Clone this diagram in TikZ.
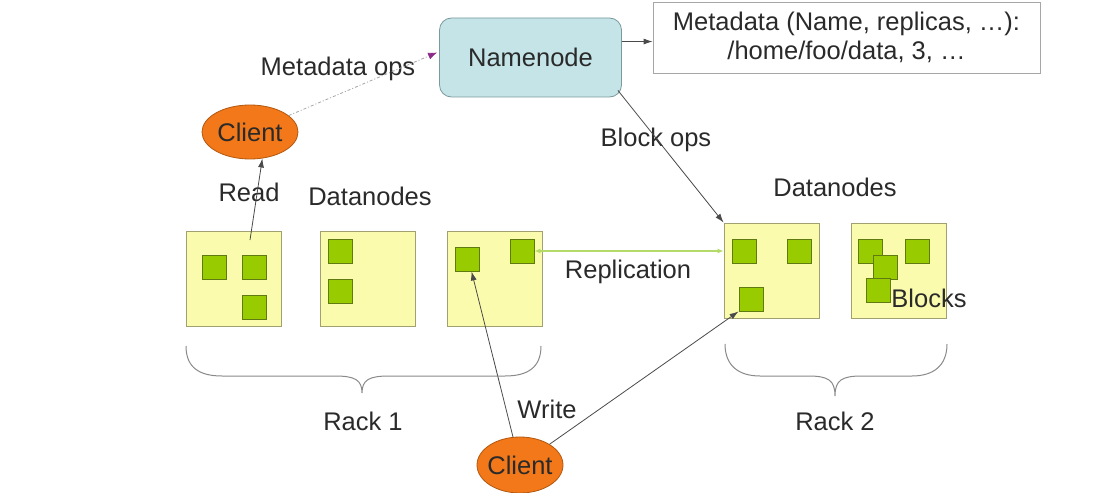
\documentclass[tikz,border=0pt]{standalone}
\usepackage{fontspec}
\setmainfont{Liberation Sans}
\usetikzlibrary{arrows.meta,calc,shapes.geometric}
\definecolor{txt}{HTML}{2A2A2A}
\definecolor{nnfill}{HTML}{C4E4E8}
\definecolor{nnline}{HTML}{7C9A9E}
\definecolor{clfill}{HTML}{F2781A}
\definecolor{clline}{HTML}{B2580E}
\definecolor{rkfill}{HTML}{FBFBAE}
\definecolor{rkline}{HTML}{A0A070}
\definecolor{blfill}{HTML}{99CC00}
\definecolor{blline}{HTML}{5E7A10}
\definecolor{repl}{HTML}{B4DA6A}
\definecolor{edge}{HTML}{4A4A4A}
\definecolor{mdarrow}{HTML}{8A2A8A}
\definecolor{brcol}{HTML}{8A8A8A}
\tikzset{
  lbl/.style={text=txt, font=\fontsize{25.5}{29}\selectfont, inner sep=0},
  namebox/.style={draw=nnline, fill=nnfill, rounded corners=12pt, minimum width=182pt, minimum height=79pt, inner sep=0, line width=0.8pt},
  metabox/.style={draw=gray!70, fill=white, minimum width=387pt, minimum height=71pt, inner sep=0, align=center, line width=0.8pt},
  client/.style={ellipse, draw=clline, fill=clfill, minimum width=96pt, minimum height=54pt, inner sep=0, line width=0.8pt},
  rack/.style={draw=rkline, fill=rkfill, minimum width=95pt, minimum height=95pt, inner sep=0, line width=0.8pt},
  blk/.style={draw=blline, fill=blfill, minimum size=24pt, inner sep=0, line width=0.9pt},
  conn/.style={draw=edge, line width=0.8pt, -{Latex[length=9pt,width=6pt]}},
  brc/.style={draw=brcol, line width=1pt},
}
\begin{document}
\begin{tikzpicture}[x=1pt,y=-1pt]
\useasboundingbox (0,0) rectangle (1107,492);
\fill[white] (0,0) rectangle (1107,492);
% top nodes
\node[namebox] (nn) at (530.5,57.5) {};
\node[lbl] at (nn.center) {Namenode};
\node[metabox] (meta) at (846.5,37.5) {};
\node[lbl, align=center] (metatxt) at (846.5,37) {Metadata (Name, replicas, …):\\/home/foo/data, 3, …};
\node[client] (c1) at (250,132) {};
\node[lbl] at (c1.center) {Client};
\node[client, minimum width=86pt, minimum height=56pt] (c2) at (520,465) {};
\node[lbl] at (c2.center) {Client};
% racks
\node[rack] (r1) at (233.5,278.5) {};
\node[rack] (r2) at (367.5,278.5) {};
\node[rack] (r3) at (494.5,278.5) {};
\node[rack] (r4) at (771.5,270.5) {};
\node[rack] (r5) at (898.5,270.5) {};
% blocks
\node[blk] (b1a) at (214,267) {};
\node[blk] (b1b) at (254,267) {};
\node[blk] (b1c) at (254,307) {};
\node[blk] (b2a) at (340.5,251) {};
\node[blk] (b2b) at (340.5,291) {};
\node[blk] (b3a) at (467,259) {};
\node[blk] (b3b) at (522,251) {};
\node[blk] (b4a) at (744,251) {};
\node[blk] (b4b) at (799,251) {};
\node[blk] (b4c) at (751,299) {};
\node[blk] (b5a) at (870,251) {};
\node[blk] (b5d) at (917.5,251) {};
\node[blk] (b5b) at (885.5,267) {};
\node[blk] (b5c) at (878.5,290.5) {};
% labels
\node[lbl] (lmo) at (338,69) {Metadata ops};
\node[lbl] (lread) at (249,192) {Read};
\node[lbl] (ldn1) at (370,196) {Datanodes};
\node[lbl] (ldn2) at (835,187) {Datanodes};
\node[lbl] (lbo) at (656,140) {Block ops};
\node[lbl] (lrep) at (628,272) {Replication};
\node[lbl] (lblk) at (929,298) {Blocks};
\node[lbl] (lr1) at (363,421) {Rack 1};
\node[lbl] (lr2) at (835,421) {Rack 2};
\node[lbl] (lwr) at (547,409) {Write};
% connectors
\coordinate (nnr) at ($(nn.north east)!0.3!(nn.south east)$);
\draw[conn] (nnr) -- (meta.west |- nnr);
\draw[draw=gray!70, line width=0.8pt, dash pattern=on 3pt off 2pt on 1pt off 2pt, -{Latex[length=9pt,width=7pt,color=mdarrow]}] (c1) -- ($(nn.west)+(-2,-5)$);
\coordinate (readstart) at (250,240);
\draw[conn] (readstart) -- (c1.-65);
\coordinate (bostart) at ($(nn.south east)+(-4,-7)$);
\draw[conn] (bostart) -- (r4.north west);
\draw[draw=repl, line width=1.3pt, {Latex[length=6pt,width=5pt]}-{Latex[length=6pt,width=5pt]}] (b3b.east) -- (r4.west |- b3b.east);
\draw[conn] (c2) -- (b3a.-70);
\draw[conn] (c2) -- (b4c.south west);
% braces
\draw[brc] (186,346) .. controls (186,368) and (200,376) .. (222,376) -- (335,376) .. controls (355,376) and (362,380) .. (362,393)
           .. controls (362,380) and (369,376) .. (389,376) -- (505,376) .. controls (527,376) and (541,368) .. (541,346);
\draw[brc] (725,344) .. controls (725,366) and (739,376) .. (760,376) -- (808,376) .. controls (828,376) and (835,380) .. (835,396)
           .. controls (835,380) and (842,376) .. (862,376) -- (912,376) .. controls (933,376) and (947,366) .. (947,344);
\end{tikzpicture}
\end{document}
